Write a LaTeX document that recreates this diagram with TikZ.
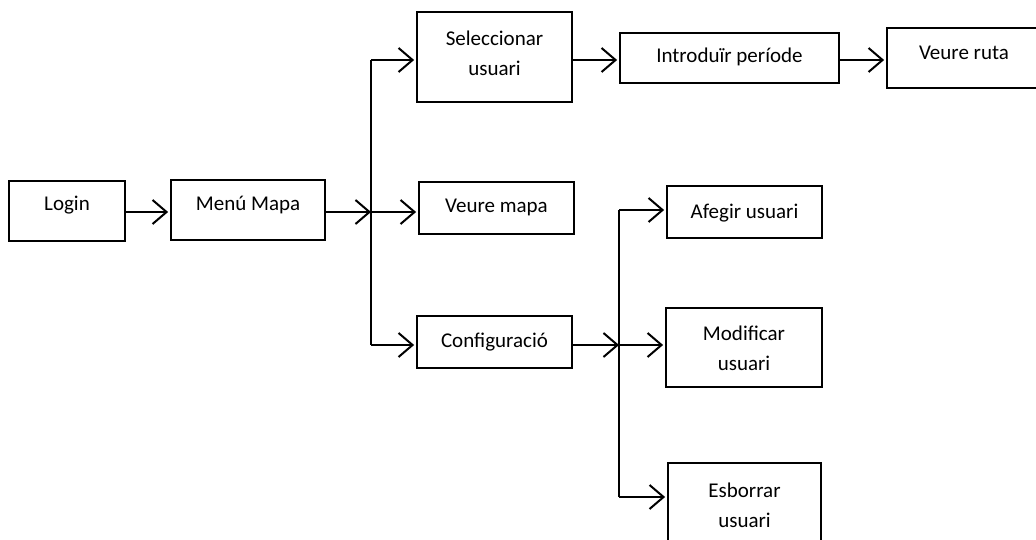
\documentclass[tikz,border=0pt]{standalone}
\usepackage{fontspec}
\setmainfont{Carlito}
\usetikzlibrary{arrows.meta}
\begin{document}
\begin{tikzpicture}[x=1pt,y=-1pt,
  box/.style={draw, line width=1.8pt, inner sep=0pt, rectangle},
  lbl/.style={inner sep=0pt, align=center, font=\fontsize{21}{30}\selectfont},
  link/.style={line width=2pt},
  arr/.style={line width=2pt, -{Straight Barb[length=14pt,width=24pt]}, shorten >=2pt}]
\clip (0,0) rectangle (1036,540);

% boxes
\node[box, minimum width=116pt, minimum height=60pt] (login) at (67,211) {};
\node[box, minimum width=154pt, minimum height=60pt] (menu) at (248,210) {};
\node[box, minimum width=155pt, minimum height=90pt] (sel) at (494.5,57) {};
\node[box, minimum width=219pt, minimum height=50pt] (intro) at (729.5,58) {};
\node[box, minimum width=170pt, minimum height=60pt] (ruta) at (972,58) {};
\node[box, minimum width=155pt, minimum height=52pt] (mapa) at (496.5,208) {};
\node[box, minimum width=155pt, minimum height=52pt] (config) at (494.5,342) {};
\node[box, minimum width=155pt, minimum height=52pt] (afegir) at (744.5,212) {};
\node[box, minimum width=156pt, minimum height=79pt] (modif) at (744,347.5) {};
\node[box, minimum width=153pt, minimum height=80pt] (esborr) at (744.5,503) {};

% labels
\node[lbl] (login-t) at (67,205) {Login};
\node[lbl] (menu-t) at (248,205) {Menú Mapa};
\node[lbl] (sel-t) at (494.5,53) {Seleccionar\\usuari};
\node[lbl] (intro-t) at (729.5,57) {Introduïr període};
\node[lbl] (ruta-t) at (964,53) {Veure ruta};
\node[lbl] (mapa-t) at (496.5,207) {Veure mapa};
\node[lbl] (config-t) at (494.5,342) {Configuració};
\node[lbl] (afegir-t) at (744.5,213) {Afegir usuari};
\node[lbl] (modif-t) at (744,348) {Modificar\\usuari};
\node[lbl] (esborr-t) at (744.5,505) {Esborrar\\usuari};

% branch points
\coordinate (ja) at (371,60);
\coordinate (jb) at (371,212);
\coordinate (jc) at (371,345);
\coordinate (ka) at (619,210);
\coordinate (kb) at (619,345);
\coordinate (kc) at (619,497);

% connectors
\draw[arr] (login.east |- jb) -- (menu.west |- jb);
\draw[arr, shorten >=0pt] (menu.east |- jb) -- (jb);
\draw[link] (ja) -- (jc);
\draw[arr] (ja) -- (sel.west |- ja);
\draw[arr] (jb) -- (mapa.west |- jb);
\draw[arr] (jc) -- (config.west |- jc);
\draw[arr] (sel.east |- ja) -- (intro.west |- ja);
\draw[arr] (intro.east |- ja) -- (ruta.west |- ja);
\draw[arr, shorten >=0pt] (config.east |- kb) -- (kb);
\draw[link] (ka) -- (kc);
\draw[arr] (ka) -- (afegir.west |- ka);
\draw[arr] (kb) -- (modif.west |- kb);
\draw[arr] (kc) -- (esborr.west |- kc);
\end{tikzpicture}
\end{document}
